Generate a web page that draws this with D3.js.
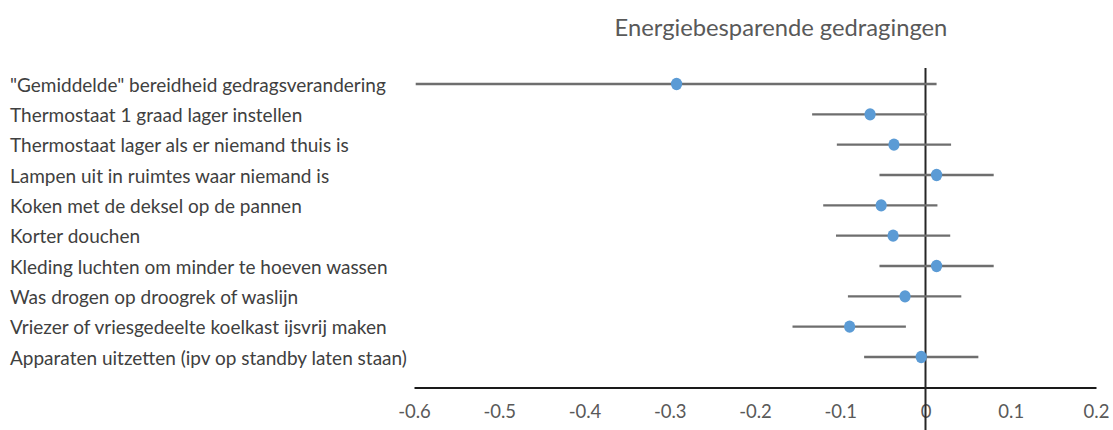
<!DOCTYPE html>
<html>
<head>
<meta charset="utf-8">
<script src="https://cdn.jsdelivr.net/npm/d3@7"></script>
<style>
  html, body { margin: 0; padding: 0; background: #fff; }
  svg { display: block; }
</style>
</head>
<body>
<svg id="chart" width="1113" height="430"></svg>
<script>
// Categories (top to bottom)
const categories = [
  "\"Gemiddelde\" bereidheid gedragsverandering",
  "Thermostaat 1 graad lager instellen",
  "Thermostaat lager als er niemand thuis is",
  "Lampen uit in ruimtes waar niemand is",
  "Koken met de deksel op de pannen",
  "Korter douchen",
  "Kleding luchten om minder te hoeven wassen",
  "Was drogen op droogrek of waslijn",
  "Vriezer of vriesgedeelte koelkast ijsvrij maken",
  "Apparaten uitzetten (ipv op standby laten staan)"
];
// Point estimates
const estimates = [-0.292, -0.065, -0.037, 0.013, -0.052, -0.038, 0.013, -0.024, -0.089, -0.005];
// Interval bounds
const lower = [-0.598, -0.133, -0.104, -0.054, -0.120, -0.105, -0.054, -0.091, -0.156, -0.072];
const upper = [0.013, 0.002, 0.030, 0.080, 0.014, 0.029, 0.080, 0.042, -0.023, 0.062];
// Axis ticks
const tickValues = [-0.6, -0.5, -0.4, -0.3, -0.2, -0.1, 0, 0.1, 0.2];
const tickLabels = ["-0.6", "-0.5", "-0.4", "-0.3", "-0.2", "-0.1", "0", "0.1", "0.2"];
const title = "Energiebesparende gedragingen";

const svg = d3.select("#chart");
const FONT = "Lato, 'Open Sans', 'DejaVu Sans', sans-serif";

const x = d3.scaleLinear().domain([-0.6, 0.2]).range([414, 1096]);
const y = d3.scalePoint().domain(categories).range([84, 357]);
const axisY = 387.5;

// Title
const t = svg.append("text")
  .attr("x", 781).attr("y", 27)
  .attr("text-anchor", "middle").attr("dominant-baseline", "central")
  .attr("font-family", FONT).attr("font-size", 21)
  .attr("fill", "#595959").text(title);
const tw = t.node().getComputedTextLength();
t.attr("font-size", 21 * 333 / tw);

// Category labels; font size chosen so the longest label spans its width
const labels = svg.append("g").selectAll("text")
  .data(categories).join("text")
  .attr("x", 10).attr("y", d => y(d))
  .attr("dominant-baseline", "central")
  .attr("font-family", FONT).attr("font-size", 18)
  .attr("fill", "#404040").text(d => d);
const widest = d3.max(labels.nodes(), n => n.getComputedTextLength());
labels.attr("font-size", 18 * 397 / widest);

// Bottom axis
const axis = d3.axisBottom(x)
  .tickValues(tickValues)
  .tickFormat((d, i) => tickLabels[i])
  .tickSize(0).tickSizeOuter(0).tickPadding(17);
const ax = svg.append("g").attr("transform", `translate(0,${axisY})`).call(axis);
ax.select(".domain").attr("stroke", "#1a1a1a").attr("stroke-width", 2);
ax.selectAll("text")
  .attr("font-family", FONT).attr("font-size", 18.5)
  .attr("fill", "#595959");

// Zero reference line
svg.append("line")
  .attr("x1", x(0)).attr("x2", x(0))
  .attr("y1", 68).attr("y2", 430)
  .attr("stroke", "#262626").attr("stroke-width", 2);

// Interval lines
svg.append("g").selectAll("line")
  .data(categories).join("line")
  .attr("x1", (d, i) => x(lower[i])).attr("x2", (d, i) => x(upper[i]))
  .attr("y1", d => y(d)).attr("y2", d => y(d))
  .attr("stroke", "#6e6e6e").attr("stroke-width", 2.4);

// Point estimates
svg.append("g").selectAll("ellipse")
  .data(categories).join("ellipse")
  .attr("cx", (d, i) => x(estimates[i])).attr("cy", d => y(d))
  .attr("rx", 5.6).attr("ry", 6.2)
  .attr("fill", "#5b9bd5");
</script>
</body>
</html>
